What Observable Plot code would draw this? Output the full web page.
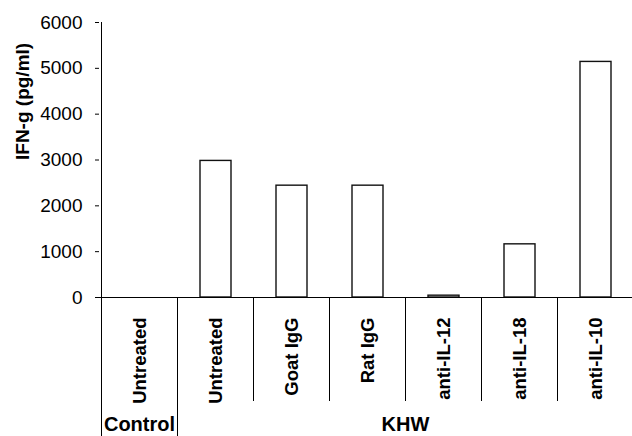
<!DOCTYPE html>
<html><head><meta charset="utf-8">
<script src="https://cdn.jsdelivr.net/npm/d3@7"></script>
<script src="https://cdn.jsdelivr.net/npm/@observablehq/plot@0.6"></script>
<style>html,body{margin:0;padding:0;background:#fff} svg{display:block}</style>
</head><body><div id="chart"></div>
<script>
const groups = ["Control","KHW","KHW","KHW","KHW","KHW","KHW"];
const treatments = ["Untreated","Untreated","Goat IgG","Rat IgG","anti-IL-12","anti-IL-18","anti-IL-10"];
const values = [0, 2980, 2440, 2440, 40, 1160, 5140];
const yTicks = [0, 1000, 2000, 3000, 4000, 5000, 6000];
const yLabel = "IFN-g (pg/ml)";

const ids = treatments.map((t, i) => groups[i] + "|" + t);
const data = ids.map((id, i) => ({id, group: groups[i], treatment: treatments[i], value: values[i]}));
const font = "'Liberation Sans', Arial, Helvetica, sans-serif";
const W = 632, H = 436;

const chart = Plot.plot({
  width: W, height: H,
  marginTop: 22, marginBottom: 139, marginLeft: 99, marginRight: 0,
  style: {fontFamily: font, color: "#000", background: "#fff", overflow: "visible"},
  x: {type: "band", domain: ids, range: [100, 635], paddingInner: 0.59, paddingOuter: 0.295, axis: null},
  y: {domain: [0, 6000], axis: null},
  marks: [
    Plot.axisY(yTicks, {tickSize: 4, tickPadding: 13, fontSize: 19, label: null, stroke: "#000", fill: "#000", tickFormat: d3.format("d")}),
    Plot.barY(data, {x: "id", y: "value", fill: "#fff", stroke: "#111", strokeWidth: 1.4}),
    Plot.ruleY([0], {stroke: "#000"}),
    Plot.text(data, {x: "id", y: 0, text: "treatment", rotate: -90, textAnchor: "end", dy: 20, fontSize: 18.5, fontWeight: "bold", fill: "#000"}),
    Plot.text([yLabel], {frameAnchor: "left", dx: -77, rotate: -90, fontSize: 19, fontWeight: "bold", fill: "#000"})
  ]
});

document.getElementById("chart").appendChild(chart);

// category dividers and group labels, positioned with the chart's own scales
const xs = chart.scale("x"), ys = chart.scale("y");
const gap = xs.step - xs.bandwidth;
const svg = d3.select(chart);
const y0 = ys.apply(0);
const gDiv = svg.append("g").attr("stroke", "#000").attr("stroke-width", 1);
ids.forEach((id, i) => {
  const b = Math.round(xs.apply(id) - gap / 2) - 0.5;
  const full = i === 0 || groups[i] !== groups[i - 1];
  gDiv.append("line")
    .attr("x1", b).attr("x2", b)
    .attr("y1", i === 0 ? ys.apply(6000) : y0)
    .attr("y2", full ? H : y0 + 104);
});
const uniq = [...new Set(groups)];
uniq.forEach(g => {
  const idx = groups.map((gg, i) => gg === g ? i : -1).filter(i => i >= 0);
  const start = xs.apply(ids[idx[0]]) - gap / 2;
  const end = xs.apply(ids[idx[idx.length - 1]]) + xs.bandwidth + gap / 2;
  svg.append("text")
    .attr("x", (start + end) / 2).attr("y", 431)
    .attr("text-anchor", "middle")
    .attr("font-family", font).attr("font-size", 20).attr("font-weight", "bold")
    .attr("fill", "#000")
    .text(g);
});
</script>
</body></html>
